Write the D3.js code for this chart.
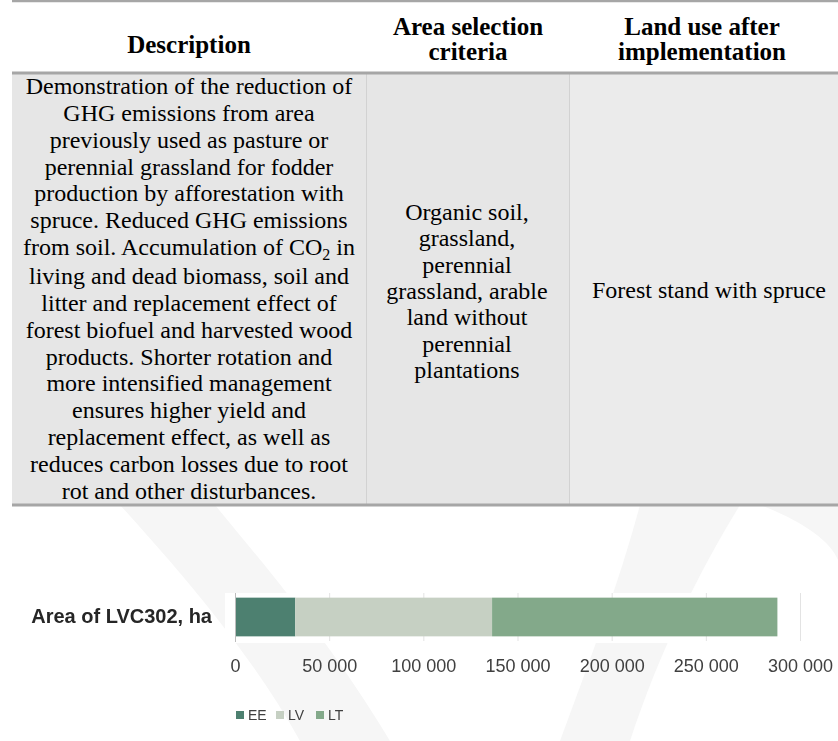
<!DOCTYPE html>
<html>
<head>
<meta charset="utf-8">
<script src="https://cdn.jsdelivr.net/npm/d3@7"></script>
<style>
  html, body { margin: 0; padding: 0; background: #ffffff; }
  svg { display: block; }
</style>
</head>
<body>
<div id="chart"></div>
<script>
// ---------------- DATA ----------------
const headerTitles = [["Description"], ["Area selection", "criteria"], ["Land use after", "implementation"]];
const descriptionLines = [
  "Demonstration of the reduction of",
  "GHG emissions from area",
  "previously used as pasture or",
  "perennial grassland for fodder",
  "production by afforestation with",
  "spruce. Reduced GHG emissions",
  "from soil. Accumulation of CO|2| in",
  "living and dead biomass, soil and",
  "litter and replacement effect of",
  "forest biofuel and harvested wood",
  "products. Shorter rotation and",
  "more intensified management",
  "ensures higher yield and",
  "replacement effect, as well as",
  "reduces carbon losses due to root",
  "rot and other disturbances."
];
const criteriaLines = [
  "Organic soil,",
  "grassland,",
  "perennial",
  "grassland, arable",
  "land without",
  "perennial",
  "plantations"
];
const landUseLines = ["Forest stand with spruce"];

const categories = ["Area of LVC302, ha"];
const seriesNames = ["EE", "LV", "LT"];
const seriesValues = [32000, 104500, 151500];
const tickValues = [0, 50000, 100000, 150000, 200000, 250000, 300000];
const tickLabels = ["0", "50 000", "100 000", "150 000", "200 000", "250 000", "300 000"];
const seriesColors = ["#4d8070", "#c6d0c3", "#83a98a"];

// ---------------- LAYOUT ----------------
const W = 838, H = 741;
const svg = d3.select("#chart").append("svg").attr("width", W).attr("height", H);

// watermark (faint logo shapes)
const wm = svg.append("g").attr("fill", "#f6f6f6");
wm.append("path").attr("d", "M120,505 C170,560 250,650 300,741 L390,741 C330,640 260,560 215,505 Z");
wm.append("path").attr("d", "M640,505 C620,580 590,660 560,741 L630,741 C660,650 700,570 740,505 Z");
wm.append("path").attr("d", "M760,505 C800,520 830,540 838,560 L838,505 Z");

// table geometry
const tableLeft = 12, tableRight = 850;
const colX = [12, 366, 569, 850];
const headerTop = 1, headerBottom = 73, bodyBottom = 505;
const serif = "'Liberation Serif', 'Times New Roman', serif";

// body backgrounds
const bodyFills = ["#e6e6e6", "#e6e6e6", "#ebebeb"];
svg.append("g").selectAll("rect").data(d3.range(3)).join("rect")
  .attr("x", i => colX[i]).attr("y", headerBottom)
  .attr("width", i => colX[i + 1] - colX[i]).attr("height", bodyBottom - headerBottom)
  .attr("fill", i => bodyFills[i]);

// column separators in body
svg.append("g").selectAll("line").data([colX[1], colX[2]]).join("line")
  .attr("x1", d => d + 0.5).attr("x2", d => d + 0.5)
  .attr("y1", headerBottom).attr("y2", bodyBottom)
  .attr("stroke", "#d2d2d2").attr("stroke-width", 1);

// horizontal rules
const rules = [{ y: headerTop, w: 2.5 }, { y: headerBottom, w: 3 }, { y: bodyBottom, w: 3 }];
svg.append("g").selectAll("line").data(rules).join("line")
  .attr("x1", tableLeft).attr("x2", tableRight)
  .attr("y1", d => d.y).attr("y2", d => d.y)
  .attr("stroke", "#a6a6a6").attr("stroke-width", d => d.w);

// header text
const headerCenters = [189, 468, 702];
const hdr = svg.append("g").attr("font-family", serif).attr("font-weight", "bold")
  .attr("font-size", 25).attr("fill", "#000").attr("text-anchor", "middle");
headerTitles.forEach((lines, i) => {
  const lh = 25;
  const firstBase = lines.length === 1 ? 53 : 35;
  lines.forEach((t, j) => {
    hdr.append("text").attr("x", headerCenters[i]).attr("y", firstBase + j * lh).text(t);
  });
});

// body text
const body = svg.append("g").attr("font-family", serif).attr("font-size", 24)
  .attr("fill", "#000").attr("text-anchor", "middle");

function addLines(lines, cx, firstBase, lh, extraAfter) {
  lines.forEach((t, j) => {
    const y = firstBase + j * lh + (extraAfter != null && j > extraAfter ? 2 : 0);
    const txt = body.append("text").attr("x", cx).attr("y", y);
    if (t.includes("|")) {
      const parts = t.split("|");
      txt.append("tspan").text(parts[0]);
      txt.append("tspan").attr("dy", 5).attr("font-size", 16).text(parts[1]);
      txt.append("tspan").attr("dy", -5).text(parts[2]);
    } else {
      txt.text(t);
    }
  });
}
addLines(descriptionLines, 189, 94, 26.85, 6);
addLines(criteriaLines, 467, 220, 26.3, null);
addLines(landUseLines, 709, 298, 26.3, null);

// ---------------- CHART ----------------
const chart = svg.append("g").attr("filter", "url(#soft)");
const defs = svg.append("defs");
defs.append("filter").attr("id", "soft").append("feGaussianBlur").attr("stdDeviation", 0.35);

const x = d3.scaleLinear().domain([0, 300000]).range([235, 800]);
const y = d3.scaleBand().domain(categories).range([593, 641]).paddingInner(0).paddingOuter(0.12);

// white chart backdrop
chart.append("rect").attr("x", 225).attr("y", 593).attr("width", 613).attr("height", 50).attr("fill", "#fff");

// gridlines
chart.append("g").selectAll("line").data(tickValues).join("line")
  .attr("x1", d => x(d) + 0.5).attr("x2", d => x(d) + 0.5)
  .attr("y1", 593).attr("y2", 641)
  .attr("stroke", (d, i) => i === 0 ? "#bdbdbd" : "#e3e3e3").attr("stroke-width", 1);

// stacked bars
const stackData = [Object.fromEntries([["cat", categories[0]], ...seriesNames.map((s, i) => [s, seriesValues[i]])])];
const stacked = d3.stack().keys(seriesNames)(stackData);
chart.append("g").selectAll("g").data(stacked).join("g")
  .attr("fill", (d, i) => seriesColors[i])
  .selectAll("rect").data(d => d).join("rect")
  .attr("x", d => x(d[0])).attr("width", d => x(d[1]) - x(d[0]))
  .attr("y", d => y(d.data.cat)).attr("height", y.bandwidth());

// redraw zero axis line over bar
chart.append("line").attr("x1", x(0) + 0.5).attr("x2", x(0) + 0.5).attr("y1", 593).attr("y2", 642)
  .attr("stroke", "#bdbdbd");

// category label
const sans = "'Liberation Sans', Arial, sans-serif";
chart.append("g").selectAll("text").data(categories).join("text")
  .attr("x", 212).attr("y", d => y(d) + y.bandwidth() / 2 + 6)
  .attr("text-anchor", "end").attr("font-family", sans).attr("font-weight", "bold")
  .attr("font-size", 20).attr("fill", "#262626").text(d => d);

// x axis tick labels
const xAxis = d3.axisBottom(x).tickValues(tickValues).tickFormat((d, i) => tickLabels[i]).tickSize(0).tickPadding(0);
const ax = chart.append("g").attr("transform", "translate(0,666)").call(xAxis);
ax.select(".domain").remove();
ax.selectAll("text").attr("font-family", sans).attr("font-size", 18).attr("fill", "#404040")
  .attr("dy", "0.35em");

// legend
const legend = chart.append("g").attr("transform", "translate(236,715)");
const legItems = legend.selectAll("g").data(seriesNames).join("g")
  .attr("transform", (d, i) => `translate(${i * 40},0)`);
legItems.append("rect").attr("x", 0).attr("y", -4).attr("width", 8).attr("height", 8)
  .attr("fill", (d, i) => seriesColors[i]);
legItems.append("text").attr("x", 12).attr("y", 5).attr("font-family", sans)
  .attr("font-size", 14).attr("fill", "#404040").text(d => d);
</script>
</body>
</html>
